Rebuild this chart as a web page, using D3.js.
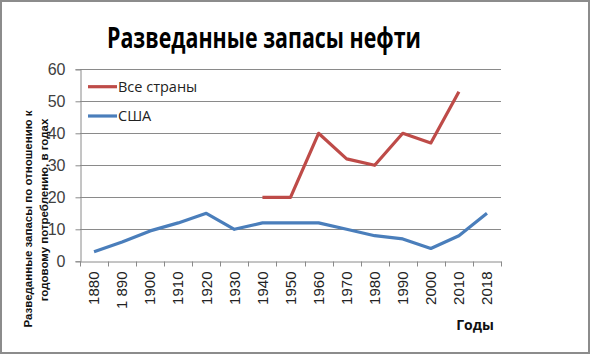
<!DOCTYPE html>
<html><head><meta charset="utf-8">
<script src="https://cdn.jsdelivr.net/npm/d3@7"></script>
<style>body{margin:0;background:#fff}svg{display:block}</style>
</head><body>
<script>
const years = ["1880","1 890","1900","1910","1920","1930","1940","1950","1960","1970","1980","1990","2000","2010","2018"];
const allCountries = [null,null,null,null,null,null,20,20,40,32,30,40,37,53,null];
const usa = [3,6,9.5,12,15,10,12,12,12,10,8,7,4,8,15];
const yTicks = [0,10,20,30,40,50,60];
const seriesNames = ["Все страны","США"];
const seriesColors = ["#BE4B48","#4A7EBB"];

const W=591,H=355;
const svg=d3.select("body").append("svg").attr("width",W).attr("height",H);
svg.append("rect").attr("x",1).attr("y",1).attr("width",W-3).attr("height",H-3)
  .attr("fill","#fff").attr("stroke","#8c8c8c").attr("stroke-width",2);

const m={l:80,r:501,t:69.3,b:261.3};
const x=d3.scaleBand().domain(years).range([m.l,m.r]);
const y=d3.scaleLinear().domain([0,60]).range([m.b,m.t]);

// gridlines
svg.append("g").selectAll("line").data(yTicks.filter(d=>d>0)).join("line")
  .attr("x1",m.l).attr("x2",m.r).attr("y1",d=>Math.round(y(d))+0.5).attr("y2",d=>Math.round(y(d))+0.5)
  .attr("stroke","#8a8a8a").attr("stroke-width",1);

// y axis
const ya=svg.append("g").attr("transform",`translate(${m.l+0.5},0)`)
  .call(d3.axisLeft(y).tickValues(yTicks).tickSize(5).tickPadding(10).tickFormat(d3.format("d")));
ya.select(".domain").attr("stroke","#8a8a8a");
ya.selectAll(".tick line").attr("stroke","#8a8a8a");
ya.selectAll("text").attr("font-family","Liberation Sans, Arial, sans-serif").attr("font-size",16).attr("fill","#404040");

// x axis
const xa=svg.append("g").attr("transform",`translate(0,${Math.round(m.b)+0.5})`)
  .call(d3.axisBottom(x).tickSize(0).tickFormat(d=>d));
xa.select(".domain").attr("stroke","#8a8a8a");
xa.selectAll(".tick text").attr("transform","rotate(-90)").attr("text-anchor","end")
  .attr("x",-10).attr("y",0).attr("dy","0.35em")
  .attr("font-family","Liberation Sans, Arial, sans-serif").attr("font-size",15).attr("fill","#222");
// category boundary ticks
const bounds=years.map(d=>x(d)).concat([m.r]);
xa.append("g").selectAll("line").data(bounds).join("line")
  .attr("x1",d=>Math.round(d)+0.5).attr("x2",d=>Math.round(d)+0.5).attr("y1",0).attr("y2",5)
  .attr("stroke","#8a8a8a");

const line=d3.line().defined(d=>d[1]!=null).x(d=>x(d[0])+x.bandwidth()/2).y(d=>y(d[1]));
const data=[allCountries,usa];
data.forEach((s,i)=>{
  svg.append("path").datum(years.map((yr,j)=>[yr,s[j]]))
    .attr("d",line).attr("fill","none").attr("stroke",seriesColors[i]).attr("stroke-width",3.2)
    .attr("stroke-linejoin","round");
});

// legend
const lg=svg.append("g");
seriesNames.forEach((n,i)=>{
  const yy=[86.7,116][i];
  lg.append("line").attr("x1",88).attr("x2",117).attr("y1",yy).attr("y2",yy)
    .attr("stroke",seriesColors[i]).attr("stroke-width",3.2);
  lg.append("text").attr("x",118).attr("y",yy).attr("dy","0.35em").text(n)
    .attr("font-family","Open Sans, Liberation Sans, sans-serif").attr("font-size",14.5).attr("fill","#222");
});

// title
svg.append("text").attr("x",264).attr("y",48).attr("text-anchor","middle")
  .attr("font-family","Open Sans, Liberation Sans, sans-serif").attr("font-weight","bold")
  .attr("font-size",28).attr("textLength",314).attr("lengthAdjust","spacingAndGlyphs")
  .text("Разведанные запасы нефти");

// y title
svg.append("text").attr("transform","translate(32,219) rotate(-90)").attr("text-anchor","middle")
  .attr("font-family","Liberation Sans, Arial, sans-serif").attr("font-weight","bold").attr("font-size",11.5).attr("fill","#111")
  .text("Разведанные  запасы по отношению к");
svg.append("text").attr("transform","translate(48,210) rotate(-90)").attr("text-anchor","middle")
  .attr("font-family","Liberation Sans, Arial, sans-serif").attr("font-weight","bold").attr("font-size",11.5).attr("fill","#111")
  .text("годовому потреблению, в годах");

// x title
svg.append("text").attr("x",494).attr("y",330).attr("text-anchor","end")
  .attr("font-family","Open Sans, Liberation Sans, sans-serif").attr("font-weight","bold").attr("font-size",14).attr("fill","#111")
  .text("Годы");
</script>
</body></html>
